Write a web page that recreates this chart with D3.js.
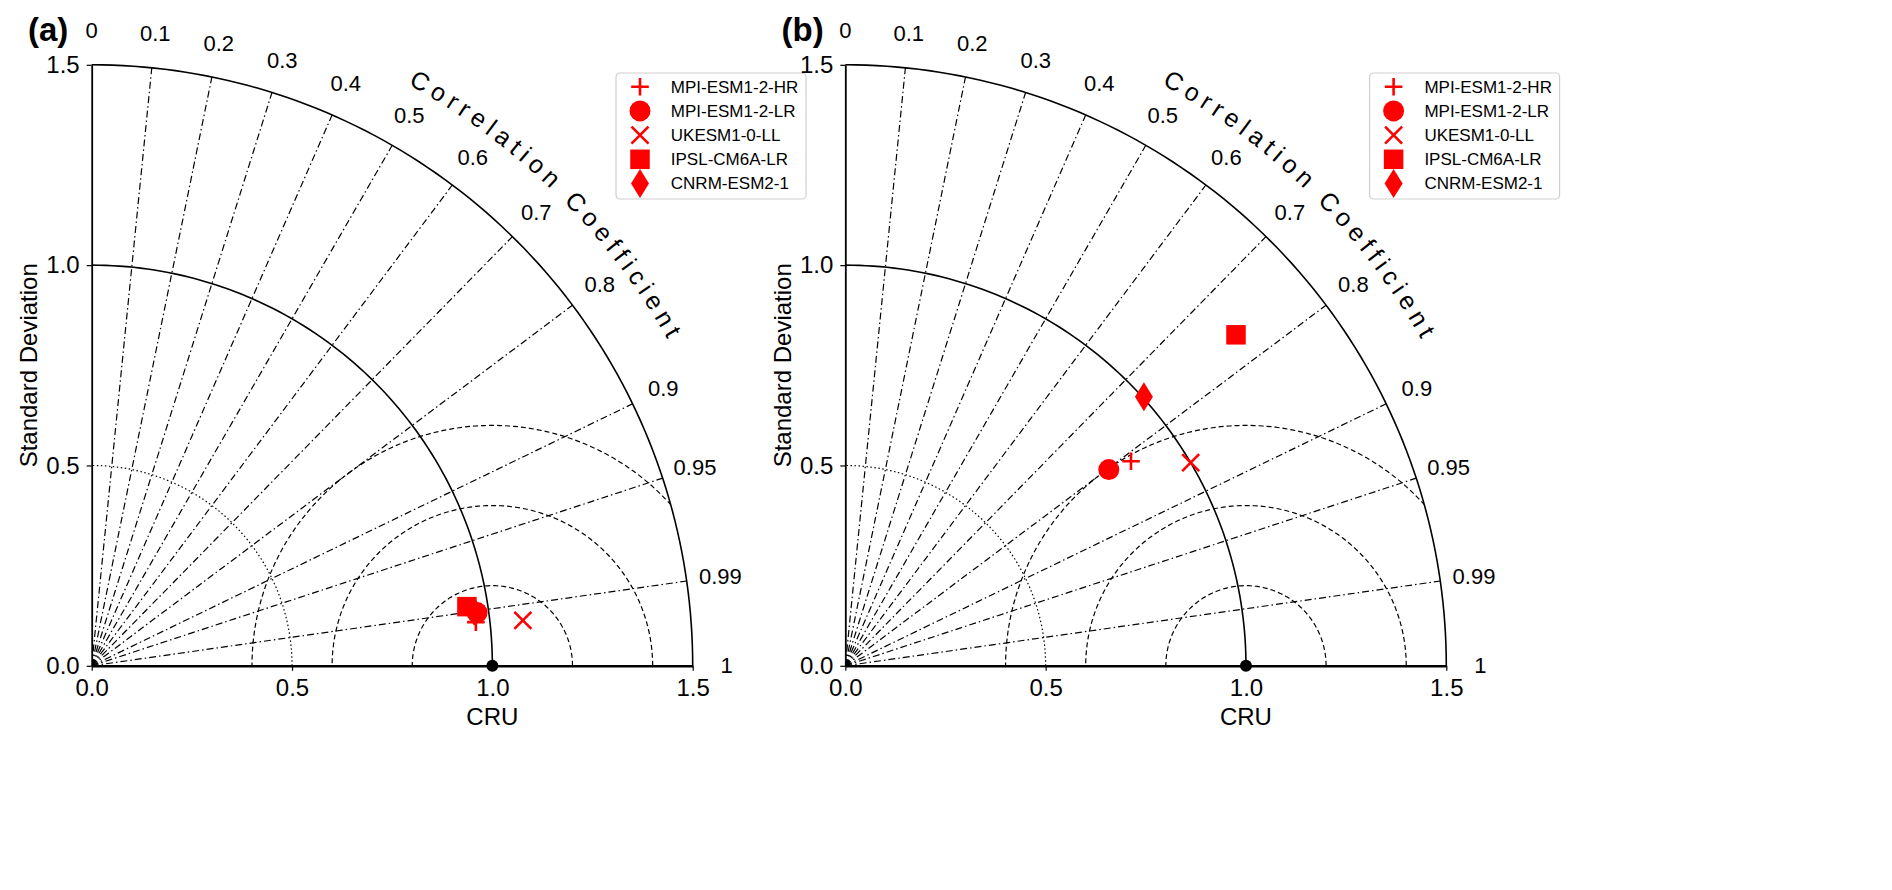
<!DOCTYPE html>
<html>
<head>
<meta charset="utf-8">
<script src="https://cdn.jsdelivr.net/npm/d3@7"></script>
<style>
  html, body { margin: 0; padding: 0; background: #fff; }
  svg { display: block; font-family: 'Liberation Sans', Arial, Helvetica, sans-serif; }
</style>
</head>
<body>
<svg id="chart" width="1892" height="890"></svg>
<script>
// ---------------- data ----------------
const models = ["MPI-ESM1-2-HR", "MPI-ESM1-2-LR", "UKESM1-0-LL", "IPSL-CM6A-LR", "CNRM-ESM2-1"];
const markerTypes = ["plus", "circle", "cross", "square", "diamond"];
// normalised standard deviation and correlation, panel (a)
const stdA  = [0.965, 0.971, 1.082, 0.948, 0.964];
const corrA = [0.9936, 0.9906, 0.9945, 0.9878, 0.990];
// panel (b)
const stdB  = [0.877, 0.820, 1.000, 1.278, 1.003];
const corrB = [0.813, 0.802, 0.862, 0.763, 0.743];
const panelLabels = ["(a)", "(b)"];
const stdTicks = [0, 0.5, 1.0, 1.5];
const corrTicks = [0, 0.1, 0.2, 0.3, 0.4, 0.5, 0.6, 0.7, 0.8, 0.9, 0.95, 0.99, 1];
const corrLines = [0.1, 0.2, 0.3, 0.4, 0.5, 0.6, 0.7, 0.8, 0.9, 0.95, 0.99];
const rmsLevels = [0.2, 0.4, 0.6];
const stdArcDotted = 0.5;
const stdArcsSolid = [1.0, 1.5];
const refStd = 1.0;
const xTitle = "CRU";
const yTitle = "Standard Deviation";
const corrTitle = "Correlation Coefficient";

// ---------------- layout ----------------
const svg = d3.select("#chart");
const maxStd = 1.5;
const R = 601;
const r = d3.scaleLinear().domain([0, maxStd]).range([0, R]);
const origins = [[91.7, 665.8], [845.3, 665.8]];
const RED = "#ff0000";

function pos(s, c) {
  const a = Math.acos(c);
  return [r(s * Math.cos(a)), -r(s * Math.sin(a))];
}

function markerPath(type) {
  switch (type) {
    case "plus": return "M-8.8,0H8.8M0,-8.8V8.8";
    case "cross": return "M-8.5,-8.5L8.5,8.5M-8.5,8.5L8.5,-8.5";
    case "circle": return d3.symbol(d3.symbolCircle, Math.PI * 10.5 * 10.5)();
    case "square": return d3.symbol(d3.symbolSquare, 19.5 * 19.5)();
    case "diamond": return "M0,-14.5L9,0L0,14.5L-9,0Z";
  }
}
function drawMarker(sel, type) {
  const stroked = (type === "plus" || type === "cross");
  sel.append("path")
    .attr("d", markerPath(type))
    .attr("fill", stroked ? "none" : RED)
    .attr("stroke", stroked ? RED : "none")
    .attr("stroke-width", stroked ? 2.6 : 0);
}

// measure glyph advances for the curved title
const titleFont = 25, titleSpacing = 5.5;
const meas = svg.append("text").attr("font-size", titleFont);
const charW = Array.from(corrTitle).map(ch => {
  if (ch === " ") return 0.278 * titleFont;
  meas.text(ch);
  return meas.node().getComputedTextLength();
});
meas.remove();

const panelData = [[stdA, corrA], [stdB, corrB]];

panelData.forEach(([stds, corrs], pi) => {
  const [ox, oy] = origins[pi];
  const g = svg.append("g").attr("transform", `translate(${ox},${oy})`);

  // clip to quarter disc
  const clipId = "clip" + pi;
  g.append("clipPath").attr("id", clipId)
    .append("path")
    .attr("d", `M0,0 L${r(maxStd)},0 A${r(maxStd)},${r(maxStd)} 0 0 0 0,${-r(maxStd)} Z`);

  const grid = g.append("g").attr("clip-path", `url(#${clipId})`);

  // correlation lines (dash-dot)
  grid.selectAll("line.corr").data(corrLines).join("line")
    .attr("x1", 0).attr("y1", 0)
    .attr("x2", c => pos(maxStd, c)[0])
    .attr("y2", c => pos(maxStd, c)[1])
    .attr("stroke", "#000").attr("stroke-width", 1.2)
    .attr("stroke-dasharray", "7,3,1.5,3");

  // RMS difference arcs (dashed), centred on reference
  const lineGen = d3.line();
  rmsLevels.forEach(lv => {
    const pts = d3.range(0, 181).map(i => {
      const t = Math.PI * i / 180;
      return [r(refStd + lv * Math.cos(t)), -r(lv * Math.sin(t))];
    });
    grid.append("path").attr("d", lineGen(pts))
      .attr("fill", "none").attr("stroke", "#000").attr("stroke-width", 1.2)
      .attr("stroke-dasharray", "5,3");
  });

  // std arcs
  const quarter = s => {
    const pts = d3.range(0, 91).map(i => {
      const t = Math.PI / 2 * i / 90;
      return [r(s * Math.cos(t)), -r(s * Math.sin(t))];
    });
    return lineGen(pts);
  };
  g.append("path").attr("d", quarter(stdArcDotted))
    .attr("fill", "none").attr("stroke", "#000").attr("stroke-width", 1.2)
    .attr("stroke-dasharray", "1.5,2.5");
  stdArcsSolid.forEach(s => {
    g.append("path").attr("d", quarter(s))
      .attr("fill", "none").attr("stroke", "#000").attr("stroke-width", 1.6);
  });

  // axes
  const yScale = d3.scaleLinear().domain([0, maxStd]).range([0, -R]);
  const xScale = d3.scaleLinear().domain([0, maxStd]).range([0, R]);
  const yAx = g.append("g").call(d3.axisLeft(yScale).tickValues(stdTicks)
      .tickFormat(d3.format(".1f")).tickSize(5).tickSizeOuter(0).tickPadding(7));
  yAx.select(".domain").attr("stroke-width", 1.8);
  yAx.selectAll(".tick line").attr("stroke-width", 1.2);
  yAx.selectAll("text").attr("font-size", 24).attr("fill", "#000");
  yAx.attr("font-family", null);

  const xAx = g.append("g").call(d3.axisBottom(xScale).tickValues(stdTicks)
      .tickFormat(d3.format(".1f")).tickSize(5).tickSizeOuter(0).tickPadding(8));
  xAx.select(".domain").attr("stroke-width", 2.6);
  xAx.selectAll(".tick line").attr("stroke-width", 1.2);
  xAx.selectAll("text").attr("font-size", 24).attr("fill", "#000");
  xAx.attr("font-family", null);

  // reference point
  g.append("circle").attr("cx", r(refStd)).attr("cy", 0).attr("r", 6).attr("fill", "#000");

  // correlation tick labels
  g.selectAll("text.ctick").data(corrTicks).join("text")
    .attr("class", "ctick")
    .attr("x", c => pos(1.585, c)[0])
    .attr("y", c => pos(1.585, c)[1])
    .attr("text-anchor", "middle")
    .attr("dominant-baseline", "central")
    .attr("font-size", 22)
    .text(c => String(c));

  // curved title, one glyph at a time along an arc
  const Rb = r(1.652);
  const midAng = 45.5 * Math.PI / 180;
  const total = d3.sum(charW) + titleSpacing * (charW.length - 1);
  const startAng = midAng + (total / 2) / Rb;
  let s = 0;
  const tg = g.append("g");
  Array.from(corrTitle).forEach((ch, i) => {
    const center = s + charW[i] / 2;
    s += charW[i] + titleSpacing;
    if (ch === " ") return;
    const th = startAng - center / Rb;
    tg.append("text")
      .attr("transform", `translate(${Rb * Math.cos(th)},${-Rb * Math.sin(th)}) rotate(${90 - th * 180 / Math.PI})`)
      .attr("text-anchor", "middle")
      .attr("font-size", titleFont)
      .text(ch);
  });

  // axis titles
  g.append("text").attr("x", r(refStd)).attr("y", 725 - oy)
    .attr("text-anchor", "middle").attr("font-size", 24).text(xTitle);
  g.append("text").attr("transform", `translate(${37 - 91.7},${-r(0.75)}) rotate(-90)`)
    .attr("text-anchor", "middle").attr("font-size", 24).text(yTitle);

  // panel label
  g.append("text").attr("x", 28 - 91.7).attr("y", 40.6 - oy)
    .attr("font-size", 33).attr("font-weight", "bold").text(panelLabels[pi]);

  // model markers
  models.forEach((m, i) => {
    const [px, py] = pos(stds[i], corrs[i]);
    const mg = g.append("g").attr("transform", `translate(${px},${py})`);
    drawMarker(mg, markerTypes[i]);
  });

  // legend
  const lg = g.append("g").attr("transform", `translate(${616 - 91.7},${73 - oy})`);
  lg.append("rect").attr("x", 0).attr("y", 0).attr("width", 190).attr("height", 126)
    .attr("rx", 4).attr("fill", "#fff").attr("stroke", "#cfcfcf").attr("stroke-width", 1.2);
  models.forEach((m, i) => {
    const row = lg.append("g").attr("transform", `translate(0,${13.7 + 24.2 * i})`);
    const mg = row.append("g").attr("transform", "translate(24,0)");
    drawMarker(mg, markerTypes[i]);
    row.append("text").attr("x", 54.8).attr("y", 0).attr("dy", "0.35em")
      .attr("font-size", 17).text(m);
  });
});
</script>
</body>
</html>
